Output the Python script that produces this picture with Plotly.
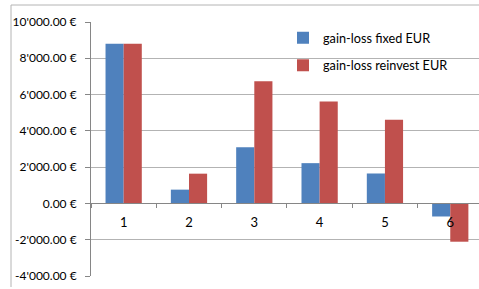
import plotly.graph_objects as go

categories = ["1", "2", "3", "4", "5", "6"]
fixed_eur = [8800, 760, 3090, 2220, 1650, -720]
reinvest_eur = [8800, 1640, 6740, 5620, 4610, -2110]
y_tickvals = [-4000, -2000, 0, 2000, 4000, 6000, 8000, 10000]
y_ticktext = ["-4'000.00 €", "-2'000.00 €", "0.00 €", "2'000.00 €", "4'000.00 €",
              "6'000.00 €", "8'000.00 €", "10'000.00 €"]

FONT = "Lato"
GRID = "#b3b3b3"
AXIS = "#868686"
BORDER = "#b4b4b4"

fig = go.Figure()
fig.add_trace(go.Bar(x=categories, y=fixed_eur, name="gain-loss fixed EUR",
                     marker=dict(color="#4F81BD", line=dict(width=0)),
                     legendgroup="a"))
fig.add_trace(go.Bar(x=categories, y=reinvest_eur, name="gain-loss reinvest EUR",
                     marker=dict(color="#C0504D", line=dict(width=0)),
                     legendgroup="b"))

W, H = 479, 289
L, R, T, B = 91, 0, 22, 13
pw = W - L - R
ph = H - T - B

zero_pos = (0 - (-4000)) / 14000

fig.update_layout(
    width=W, height=H,
    margin=dict(l=L, r=R, t=T, b=B, pad=0, autoexpand=False),
    paper_bgcolor="white", plot_bgcolor="white",
    barmode="group", bargap=0.445, bargroupgap=0,
    font=dict(family=FONT, size=13, color="#000000"),
    showlegend=True,
    legend=dict(x=(283 - L) / pw, y=1 - (23 - T) / ph, xanchor="left", yanchor="top",
                bgcolor="rgba(0,0,0,0)", tracegroupgap=8,
                font=dict(family=FONT, size=12.7), itemwidth=30),
    xaxis=dict(type="category", range=[-0.5, 5.44], anchor="free", position=zero_pos,
               automargin=False,
               showline=True, linecolor=AXIS, linewidth=1,
               ticks="outside", tickson="boundaries", ticklen=4, tickcolor=AXIS,
               ticklabelstandoff=7,
               showgrid=False, zeroline=False, tickfont=dict(family=FONT, size=13)),
    yaxis=dict(range=[-4000, 10000], tickvals=y_tickvals, ticktext=y_ticktext,
               automargin=False,
               showline=True, linecolor=AXIS, linewidth=1,
               ticks="outside", ticklen=5, tickcolor=AXIS,
               showgrid=True, gridcolor=GRID, gridwidth=1, zeroline=False,
               ticklabelstandoff=6, tickfont=dict(family=FONT, size=12)),
)

# chart-area border (left and top edges visible)
bx = (11 - L) / pw
by_top = 1 + (T - 5) / ph
by_bot = (ph + T - 287) / ph
fig.add_shape(type="line", xref="paper", yref="paper", x0=bx, x1=bx, y0=by_bot, y1=by_top,
              line=dict(color=BORDER, width=1), layer="above")
fig.add_shape(type="line", xref="paper", yref="paper", x0=bx, x1=1.01, y0=by_top, y1=by_top,
              line=dict(color=BORDER, width=1), layer="above")

fig.write_html("out.html", config={"displayModeBar": False},
               post_script="document.body.style.margin='0';document.body.style.overflow='hidden';")
